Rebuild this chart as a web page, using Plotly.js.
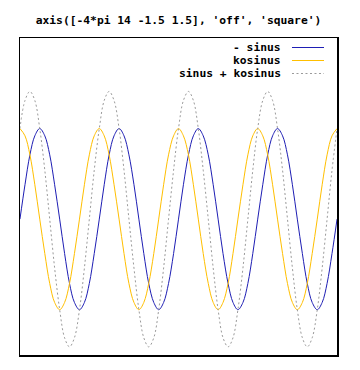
<!DOCTYPE html>
<html>
<head>
<meta charset="utf-8">
<script src="https://cdn.plot.ly/plotly-3.0.1.min.js"></script>
<style>html,body{margin:0;padding:0;background:#fff;}#chart{width:360px;height:370px;}</style>
</head>
<body>
<div id="chart"></div>
<script>
// x in radians, from -4*pi to 4*pi, step pi/8
const xValues = [-12.57, -12.17, -11.78, -11.39, -11.00, -10.60, -10.21, -9.82, -9.42, -9.03, -8.64, -8.25, -7.85, -7.46, -7.07, -6.68,
  -6.28, -5.89, -5.50, -5.11, -4.71, -4.32, -3.93, -3.53, -3.14, -2.75, -2.36, -1.96, -1.57, -1.18, -0.79, -0.39,
  0, 0.39, 0.79, 1.18, 1.57, 1.96, 2.36, 2.75, 3.14, 3.53, 3.93, 4.32, 4.71, 5.11, 5.50, 5.89,
  6.28, 6.68, 7.07, 7.46, 7.85, 8.25, 8.64, 9.03, 9.42, 9.82, 10.21, 10.60, 11.00, 11.39, 11.78, 12.17, 12.57];

const sinusValues = [0, 0.38, 0.71, 0.92, 1, 0.92, 0.71, 0.38, 0, -0.38, -0.71, -0.92, -1, -0.92, -0.71, -0.38,
  0, 0.38, 0.71, 0.92, 1, 0.92, 0.71, 0.38, 0, -0.38, -0.71, -0.92, -1, -0.92, -0.71, -0.38,
  0, 0.38, 0.71, 0.92, 1, 0.92, 0.71, 0.38, 0, -0.38, -0.71, -0.92, -1, -0.92, -0.71, -0.38,
  0, 0.38, 0.71, 0.92, 1, 0.92, 0.71, 0.38, 0, -0.38, -0.71, -0.92, -1, -0.92, -0.71, -0.38, 0];

const kosinusValues = [1, 0.92, 0.71, 0.38, 0, -0.38, -0.71, -0.92, -1, -0.92, -0.71, -0.38, 0, 0.38, 0.71, 0.92,
  1, 0.92, 0.71, 0.38, 0, -0.38, -0.71, -0.92, -1, -0.92, -0.71, -0.38, 0, 0.38, 0.71, 0.92,
  1, 0.92, 0.71, 0.38, 0, -0.38, -0.71, -0.92, -1, -0.92, -0.71, -0.38, 0, 0.38, 0.71, 0.92,
  1, 0.92, 0.71, 0.38, 0, -0.38, -0.71, -0.92, -1, -0.92, -0.71, -0.38, 0, 0.38, 0.71, 0.92, 1];

const summeValues = [1, 1.31, 1.41, 1.31, 1, 0.54, 0, -0.54, -1, -1.31, -1.41, -1.31, -1, -0.54, 0, 0.54,
  1, 1.31, 1.41, 1.31, 1, 0.54, 0, -0.54, -1, -1.31, -1.41, -1.31, -1, -0.54, 0, 0.54,
  1, 1.31, 1.41, 1.31, 1, 0.54, 0, -0.54, -1, -1.31, -1.41, -1.31, -1, -0.54, 0, 0.54,
  1, 1.31, 1.41, 1.31, 1, 0.54, 0, -0.54, -1, -1.31, -1.41, -1.31, -1, -0.54, 0, 0.54, 1];

const seriesNames = ['- sinus', 'kosinus', 'sinus + kosinus'];
const titleText = "axis([-4*pi 14 -1.5 1.5], 'off', 'square')";

const colors = ['#1e1eb4', '#ffbf00', '#9a9a9a'];
const dashes = ['solid', 'solid', '2px,2.5px'];
const seriesY = [sinusValues, kosinusValues, summeValues];

const monoFont = {family: 'DejaVu Sans Mono, monospace', size: 11.3, color: '#000', weight: 'bold'};

const traces = seriesY.map((ys, i) => ({
  x: xValues, y: ys, type: 'scatter', mode: 'lines', name: seriesNames[i],
  line: {color: colors[i], width: 1, dash: dashes[i], shape: 'spline', smoothing: 1},
  showlegend: false, hoverinfo: 'skip'
}));

const legendRowY = [0.970, 0.929, 0.888];
const annotations = seriesNames.map((n, i) => ({
  xref: 'paper', yref: 'paper', x: 0.83, y: legendRowY[i],
  xanchor: 'right', yanchor: 'middle', showarrow: false,
  text: '<b>' + n + '</b>', font: monoFont
}));
const shapes = seriesNames.map((n, i) => ({
  type: 'line', xref: 'paper', yref: 'paper',
  x0: 0.858, x1: 0.959, y0: legendRowY[i], y1: legendRowY[i],
  line: {color: colors[i], width: 1, dash: dashes[i]}
}));

const axisCommon = {showgrid: false, zeroline: false, showticklabels: false, ticks: '',
  showline: true, mirror: true, linecolor: '#000', linewidth: 1.5, fixedrange: true};

const layout = {
  width: 360, height: 370,
  margin: {l: 20, r: 23, t: 38, b: 15, pad: 0},
  paper_bgcolor: '#fff', plot_bgcolor: '#fff',
  title: {text: '<b>' + titleText + '</b>', font: monoFont, x: 0.5, xref: 'paper', xanchor: 'center',
    y: 1 - 20 / 370, yref: 'container', yanchor: 'middle'},
  xaxis: Object.assign({range: [-12.566, 12.566]}, axisCommon),
  yaxis: Object.assign({range: [-1.5, 2.0]}, axisCommon),
  annotations: annotations,
  shapes: shapes
};

Plotly.newPlot('chart', traces, layout, {displayModeBar: false, staticPlot: true});
</script>
</body>
</html>
